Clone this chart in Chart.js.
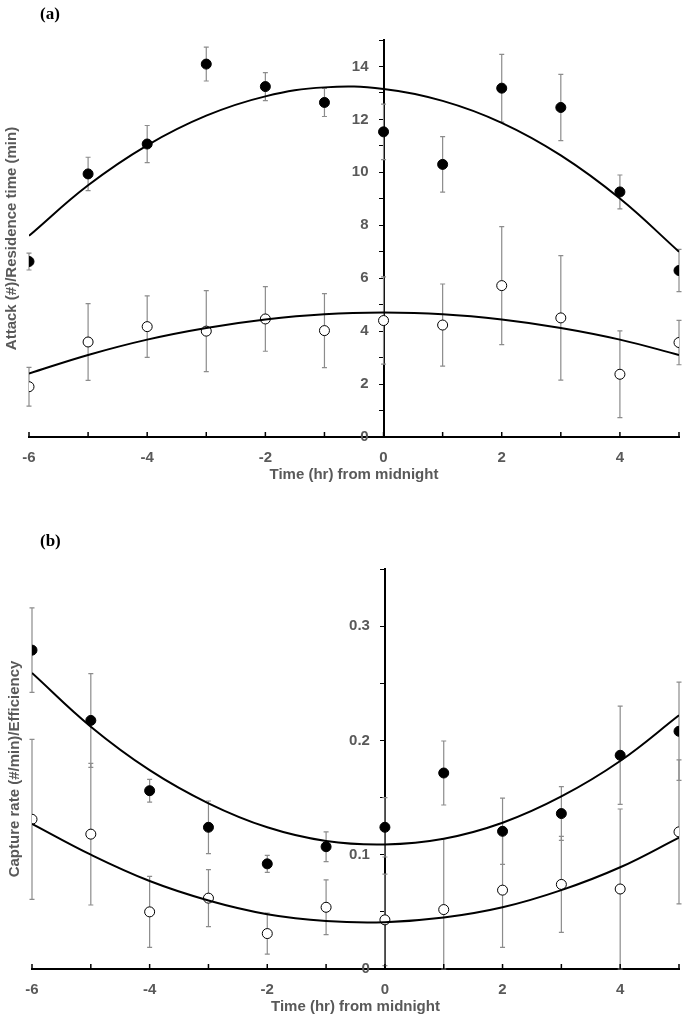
<!DOCTYPE html>
<html>
<head>
<meta charset="utf-8">
<script src="https://cdn.jsdelivr.net/npm/chart.js@4.4.1/dist/chart.umd.min.js"></script>
<style>
  body { margin: 0; background: #fff; }
  .panel { position: relative; width: 685px; }
  .tag { position: absolute; left: 40px; font: bold 17px "Liberation Serif", serif; color: #000; }
</style>
</head>
<body>
<div class="panel" style="height:500px"><div class="tag" style="top:4px">(a)</div><canvas id="chart-a"></canvas></div>
<div class="panel" style="height:515px"><div class="tag" style="top:31px">(b)</div><canvas id="chart-b"></canvas></div>
<script>
const hours = [-6, -5, -4, -3, -2, -1, 0, 1, 2, 3, 4, 5];

// panel (a)
const aFilled    = [6.63, 9.94, 11.07, 14.09, 13.24, 12.64, 11.53, 10.30, 13.18, 12.45, 9.26, 6.29];
const aFilledErr = [0.32, 0.63, 0.70, 0.64, 0.53, 0.53, 1.05, 1.05, 1.28, 1.25, 0.64, 0.80];
const aOpen      = [1.90, 3.59, 4.17, 4.00, 4.46, 4.02, 4.40, 4.23, 5.72, 4.50, 2.37, 3.57];
const aOpenErr   = [0.73, 1.45, 1.16, 1.53, 1.22, 1.40, 1.65, 1.55, 2.23, 2.35, 1.64, 0.84];
const aFilledFit = [7.60, 9.51, 11.02, 12.14, 12.87, 13.21, 13.15, 12.70, 11.87, 10.64, 9.01, 7.00];
const aOpenFit   = [2.40, 3.10, 3.68, 4.12, 4.44, 4.64, 4.70, 4.64, 4.44, 4.12, 3.68, 3.10];

// panel (b)
const bFilled    = [0.279, 0.2175, 0.156, 0.124, 0.092, 0.107, 0.124, 0.1715, 0.1205, 0.136, 0.187, 0.208];
const bFilledErr = [0.037, 0.041, 0.010, 0.023, 0.0075, 0.013, 0.026, 0.028, 0.029, 0.0235, 0.043, 0.043];
const bOpen      = [0.131, 0.118, 0.050, 0.062, 0.031, 0.054, 0.043, 0.052, 0.069, 0.074, 0.070, 0.120];
const bOpenErr   = [0.070, 0.062, 0.031, 0.025, 0.018, 0.024, 0.040, 0.062, 0.050, 0.042, 0.070, 0.063];
const bFilledFit = [0.259, 0.212, 0.174, 0.145, 0.124, 0.112, 0.109, 0.114, 0.128, 0.151, 0.182, 0.222];
const bOpenFit   = [0.127, 0.100, 0.077, 0.060, 0.048, 0.042, 0.041, 0.045, 0.054, 0.069, 0.089, 0.115];

const xTitle = "Time (hr) from midnight";
const grey = "#595959";
const labelFont = { family: "'Liberation Sans', Arial, sans-serif", size: 15, weight: "bold", lineHeight: 1 };

const pts = (ys) => ys.map((y, i) => ({ x: hours[i], y: y }));

// vertical error bars, drawn under the markers
const errorBars = {
    id: "error_bars",
    beforeDatasetsDraw: (chart) => {
        const ctx = chart.ctx;
        const xs = chart.scales.x, ys = chart.scales.y;
        ctx.save();
        ctx.strokeStyle = "#8c8c8c";
        ctx.lineWidth = 1.2;
        chart.data.datasets.forEach((ds) => {
            if (!ds.errorBars) return;
            ds.data.forEach((p, i) => {
                const px = xs.getPixelForValue(p.x);
                const top = ys.getPixelForValue(p.y + ds.errorBars[i]);
                const bot = ys.getPixelForValue(Math.max(0, p.y - ds.errorBars[i]));
                ctx.beginPath();
                ctx.moveTo(px, top); ctx.lineTo(px, bot);
                ctx.moveTo(px - 2.5, top); ctx.lineTo(px + 2.5, top);
                ctx.moveTo(px - 2.5, bot); ctx.lineTo(px + 2.5, bot);
                ctx.stroke();
            });
        });
        ctx.restore();
    }
};

// tick marks on the x axis point up into the plot
const innerTicks = {
    id: "inner_ticks",
    afterDraw: (chart) => {
        const ctx = chart.ctx;
        const xs = chart.scales.x;
        ctx.save();
        ctx.strokeStyle = "#000";
        ctx.lineWidth = 1.5;
        xs.ticks.forEach((t) => {
            const px = xs.getPixelForValue(t.value);
            ctx.beginPath();
            ctx.moveTo(px, xs.top);
            ctx.lineTo(px, xs.top - 5);
            ctx.stroke();
        });
        ctx.restore();
    }
};

// the y axis sits on x = 0, labels end a little left of it
const gap = "\u2002\u2002";

function makeChart(id, d, yOpts, yTitle, padding) {
    return new Chart(document.getElementById(id), {
        type: "scatter",
        data: {
            datasets: [
                { data: pts(d.filledFit), showLine: true, pointRadius: 0, borderColor: "#000", borderWidth: 2, tension: 0.4 },
                { data: pts(d.openFit), showLine: true, pointRadius: 0, borderColor: "#000", borderWidth: 2, tension: 0.4 },
                { data: pts(d.filled), errorBars: d.filledErr, pointRadius: 5, backgroundColor: "#000", borderColor: "#000", borderWidth: 1 },
                { data: pts(d.open), errorBars: d.openErr, pointRadius: 5, backgroundColor: "#fff", borderColor: "#000", borderWidth: 1 }
            ]
        },
        plugins: [errorBars, innerTicks],
        options: {
            responsive: true,
            maintainAspectRatio: false,
            animation: false,
            layout: { padding: padding },
            plugins: { legend: { display: false }, tooltip: { enabled: false } },
            scales: {
                x: {
                    type: "linear",
                    min: -6,
                    max: 5,
                    ticks: {
                        stepSize: 1,
                        color: grey,
                        font: labelFont,
                        padding: 5,
                        callback: (v) => (v % 2 === 0 ? String(v) : "")
                    },
                    grid: { display: false },
                    border: { display: true, color: "#000", width: 2 },
                    title: { display: true, text: xTitle, color: grey, font: labelFont, padding: { top: -3, bottom: 0 } }
                },
                y: Object.assign({
                    type: "linear",
                    position: { x: 0 },
                    grid: { drawOnChartArea: false, drawTicks: true, tickLength: 4, color: "#000", lineWidth: 1 },
                    border: { display: true, color: "#000", width: 2 }
                }, yOpts),
                yt: {
                    type: "linear",
                    position: "left",
                    ticks: { display: false },
                    grid: { display: false },
                    border: { display: false },
                    title: { display: true, text: yTitle, color: grey, font: labelFont, padding: { top: 2, bottom: 2 } }
                }
            }
        }
    });
}

makeChart("chart-a",
    { filled: aFilled, filledErr: aFilledErr, open: aOpen, openErr: aOpenErr, filledFit: aFilledFit, openFit: aOpenFit },
    {
        min: 0, max: 15,
        ticks: { stepSize: 1, color: grey, font: labelFont, callback: (v) => (v % 2 === 0 ? v + gap : "") }
    },
    "Attack (#)/Residence time (min)",
    { top: 40, left: 2, right: 5, bottom: 18 });

makeChart("chart-b",
    { filled: bFilled, filledErr: bFilledErr, open: bOpen, openErr: bOpenErr, filledFit: bFilledFit, openFit: bOpenFit },
    {
        min: 0, max: 0.35,
        ticks: {
            stepSize: 0.05, color: grey, font: labelFont,
            callback: (v) => { const t = Math.round(v * 100); return t % 10 === 0 ? (t / 100) + gap : ""; }
        }
    },
    "Capture rate (#/min)/Efficiency",
    { top: 69, left: 5, right: 3, bottom: 1 });
</script>
</body>
</html>
